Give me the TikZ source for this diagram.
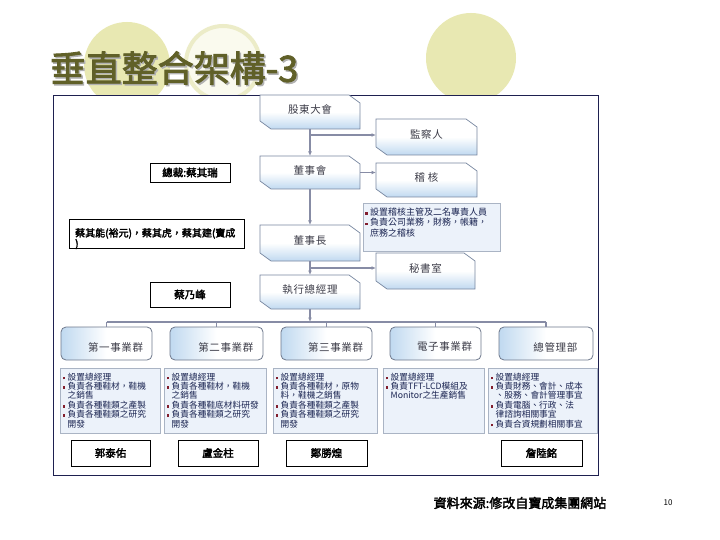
\documentclass[tikz,border=0pt]{standalone}
\usepackage{fontspec}
\usetikzlibrary{arrows.meta,calc,shadows}
\newfontfamily\cjk{Noto Sans CJK TC}
\newfontfamily\cjkb[FakeBold=2.5]{Noto Sans CJK TC}
\newfontfamily\cjkls[LetterSpace=6]{Noto Sans CJK TC}
\definecolor{titleol}{RGB}{96,96,40}
\definecolor{circfill}{RGB}{232,232,178}
\definecolor{circring}{RGB}{236,236,200}
\definecolor{framec}{RGB}{30,32,80}
\definecolor{orgline}{RGB}{120,135,160}
\definecolor{orgblue}{RGB}{192,217,240}
\definecolor{connc}{RGB}{135,140,165}
\definecolor{notefill}{RGB}{236,242,250}
\definecolor{noteline}{RGB}{170,180,196}
\definecolor{txtnavy}{RGB}{25,35,80}
\definecolor{bulred}{RGB}{130,30,45}
\definecolor{orgtxt}{RGB}{60,60,72}
\definecolor{divline}{RGB}{110,120,140}

\newcommand{\bul}{\makebox[5pt][l]{\textcolor{bulred}{\rule[0.6pt]{2.6pt}{2.6pt}}}}
\newcommand{\ind}{\hspace*{5pt}}

\tikzset{
  orgshape/.style={draw=orgline, line width=0.7pt, top color=white, bottom color=orgblue, middle color=white},
  boxframe/.style={rectangle, draw=none, inner sep=0pt, outer sep=0pt},
  orglabel/.style={font=\cjkls\fontsize{10.5}{12}\selectfont, text=orgtxt, inner sep=0pt},
  conn/.style={draw=connc, line width=1.3pt, -{Latex[length=4.5pt,width=3.8pt]}},
  connplain/.style={draw=connc, line width=1.3pt},
  descframe/.style={rectangle, draw=noteline, fill=notefill, line width=0.6pt, inner sep=0pt, outer sep=0pt,
     drop shadow={shadow xshift=1.2pt, shadow yshift=-1.2pt, opacity=0.35, fill=black!60}},
  desctext/.style={font=\cjk\fontsize{8.7}{9.4}\selectfont, text=txtnavy, align=left, inner sep=0pt},
  notetext/.style={font=\cjk\fontsize{9}{10.5}\selectfont, text=txtnavy, align=left, inner sep=0pt},
  divbox/.style={rectangle, rounded corners=5pt, draw=divline, line width=0.8pt, left color=orgblue, right color=white, middle color=white, inner sep=0pt, outer sep=0pt},
  divlabel/.style={font=\cjkls\fontsize{10.5}{12}\selectfont, text=orgtxt, inner sep=0pt},
  namebox/.style={rectangle, draw=black, line width=0.8pt, fill=white, inner sep=0pt, outer sep=0pt, font=\cjkb\fontsize{10.5}{11}\selectfont},
  nametext/.style={font=\cjkb\fontsize{10}{10.5}\selectfont, align=left, inner sep=0pt},
  titletxt/.style={font=\cjkb\fontsize{36}{40}\selectfont, text=titleol, inner sep=0pt}
}

\newcommand{\orgbox}[6]{%
  \path[orgshape] (#2,#3) -- ({#4-11},#3) -- (#4,{#3+8}) -- (#4,#5) -- ({#2+11},#5) -- (#2,{#5-8}) -- cycle;
  \node[boxframe, minimum width={#4pt-#2pt}, minimum height={#5pt-#3pt}] (#1) at ({(#2+#4)/2},{(#3+#5)/2}) {};
  \node[orglabel] (#1t) at ($(#1.north)!0.43!(#1.south)$) {#6};}

\newcommand{\descbox}[6]{%
  \node[descframe, minimum width={#4pt-#2pt}, minimum height={#5pt-#3pt}] (#1) at ({(#2+#4)/2},{(#3+#5)/2}) {};
  \node[desctext, anchor=north west] (#1t) at ({#2+2.5},{#3+4.5}) {#6};}

\newcommand{\divbox}[6]{%
  \node[divbox, minimum width={#4pt-#2pt}, minimum height={#5pt-#3pt}] (#1) at ({(#2+#4)/2},{(#3+#5)/2}) {};
  \node[divlabel] (#1t) at ($($(#1.west)!0.6!(#1.east)$)+(0,3.5)$) {#6};}

\newcommand{\namebox}[6]{%
  \node[namebox, minimum width={#4pt-#2pt}, minimum height={#5pt-#3pt}] (#1) at ({(#2+#4)/2},{(#3+#5)/2}) {#6};}

\begin{document}
\begin{tikzpicture}[x=1pt,y=-1pt]
\useasboundingbox (0,0) rectangle (720,540);
\fill[white] (0,0) rectangle (720,540);

% decorative circles
\fill[circfill] (127,65) circle (43);
\draw[circring, line width=4pt, fill={rgb,255:red,250;green,250;blue,238}] (223,63) circle (37);
\fill[circfill] (471,58) circle (45);

% title
\node[titletxt, text=black!30] (titleshadow) at (175.5,69.5) {垂直整合架構-3};
\node[titletxt] (title) at (174,68) {垂直整合架構-3};

% frame
\draw[framec, line width=0.9pt, fill=white] (53,95) rectangle (598,475);

% org chart top
\orgbox{gd}{260}{95}{360}{129}{股東大會}
\orgbox{jc}{376}{119}{477}{155}{監察人}
\orgbox{ds}{260}{156}{360}{189}{董事會}
\orgbox{jh}{376}{163}{477}{197}{稽 核}
\orgbox{cm}{260}{225}{360}{261}{董事長}
\orgbox{sec}{376}{253}{475}{289}{秘書室}
\orgbox{ceo}{260}{275}{360}{309}{執行總經理}

% audit note
\descbox{note}{363}{203}{500}{251}{}
\node[notetext, anchor=north west] (notet2) at (365,207.5) {\bul 設置稽核主管及二名專責人員\\\bul 負責公司業務，財務，帳籍，\\\ind 庶務之稽核};

% connectors top
\draw[conn] (gd.south) -- (ds.north);
\coordinate (j1) at ($(gd.south)+(0,6)$);
\draw[conn] (j1) -- (j1 -| jc.west);
\draw[conn] (ds.east) -- (ds.east -| jh.west);
\draw[conn] (ds.south) -- (cm.north);
\draw[conn] (cm.south) -- (ceo.north);
\coordinate (j2) at ($(cm.south)+(0,7)$);
\draw[conn] (j2) -- (j2 -| sec.west);
\coordinate (bus) at ($(ceo.south)+(0,13)$);
\draw[conn] (ceo.south) -- (bus);

% divisions
\divbox{d1}{61}{327}{152}{360}{第一事業群}
\divbox{d2}{170}{327}{263}{360}{第二事業群}
\divbox{d3}{281}{327}{372}{360}{第三事業群}
\divbox{d4}{390}{327}{481}{360}{電子事業群}
\divbox{d5}{499}{327}{593}{360}{總管理部}

\draw[connplain] (d1.north |- bus) -- (d5.north |- bus);
\foreach \d in {d1,d2,d3,d4,d5} \draw[connplain] (\d.north |- bus) -- (\d.north);

% descriptions
\descbox{e1}{60}{368}{160}{433}{\bul 設置總經理\\\bul 負責各種鞋材，鞋機\\\ind 之銷售\\\bul 負責各種鞋類之產製\\\bul 負責各種鞋類之研究\\\ind 開發}
\descbox{e2}{164}{368}{266}{433}{\bul 設置總經理\\\bul 負責各種鞋材，鞋機\\\ind 之銷售\\\bul 負責各種鞋底材料研發\\\bul 負責各種鞋類之研究\\\ind 開發}
\descbox{e3}{273}{368}{377}{433}{\bul 設置總經理\\\bul 負責各種鞋材，原物\\\ind 料，鞋機之銷售\\\bul 負責各種鞋類之產製\\\bul 負責各種鞋類之研究\\\ind 開發}
\descbox{e4}{383}{368}{484}{433}{\bul 設置總經理\\\bul 負責TFT-LCD模組及\\\ind Monitor之生產銷售}
\descbox{e5}{488}{368}{597}{433}{\bul 設置總經理\\\bul 負責財務、會計、成本\\\ind 、股務、會計管理事宜\\\bul 負責電腦、行政、法\\\ind 律諮詢相關事宜\\\bul 負責合資規劃相關事宜}

% name boxes
\namebox{n1}{150}{163}{230}{182}{總裁:蔡其瑞}
\namebox{n2}{69}{219}{244}{248}{}
\node[nametext, anchor=north west] (n2t) at (75,228) {蔡其能(裕元)，蔡其虎，蔡其建(寶成\\)};
\namebox{n3}{150}{282}{230}{307}{蔡乃峰}
\namebox{m1}{71}{440}{150}{466}{郭泰佑}
\namebox{m2}{178}{440}{258}{466}{盧金柱}
\namebox{m3}{286}{440}{367}{466}{鄭勝煌}
\namebox{m5}{501}{440}{582}{466}{詹陸銘}

% footer
\node[font=\cjkb\fontsize{13}{14}\selectfont, inner sep=0pt] (src) at (520,503) {資料來源:修改自寶成集團網站};
\node[font=\cjk\fontsize{8}{9}\selectfont, inner sep=0pt] (pg) at (668,503) {10};
\end{tikzpicture}
\end{document}
